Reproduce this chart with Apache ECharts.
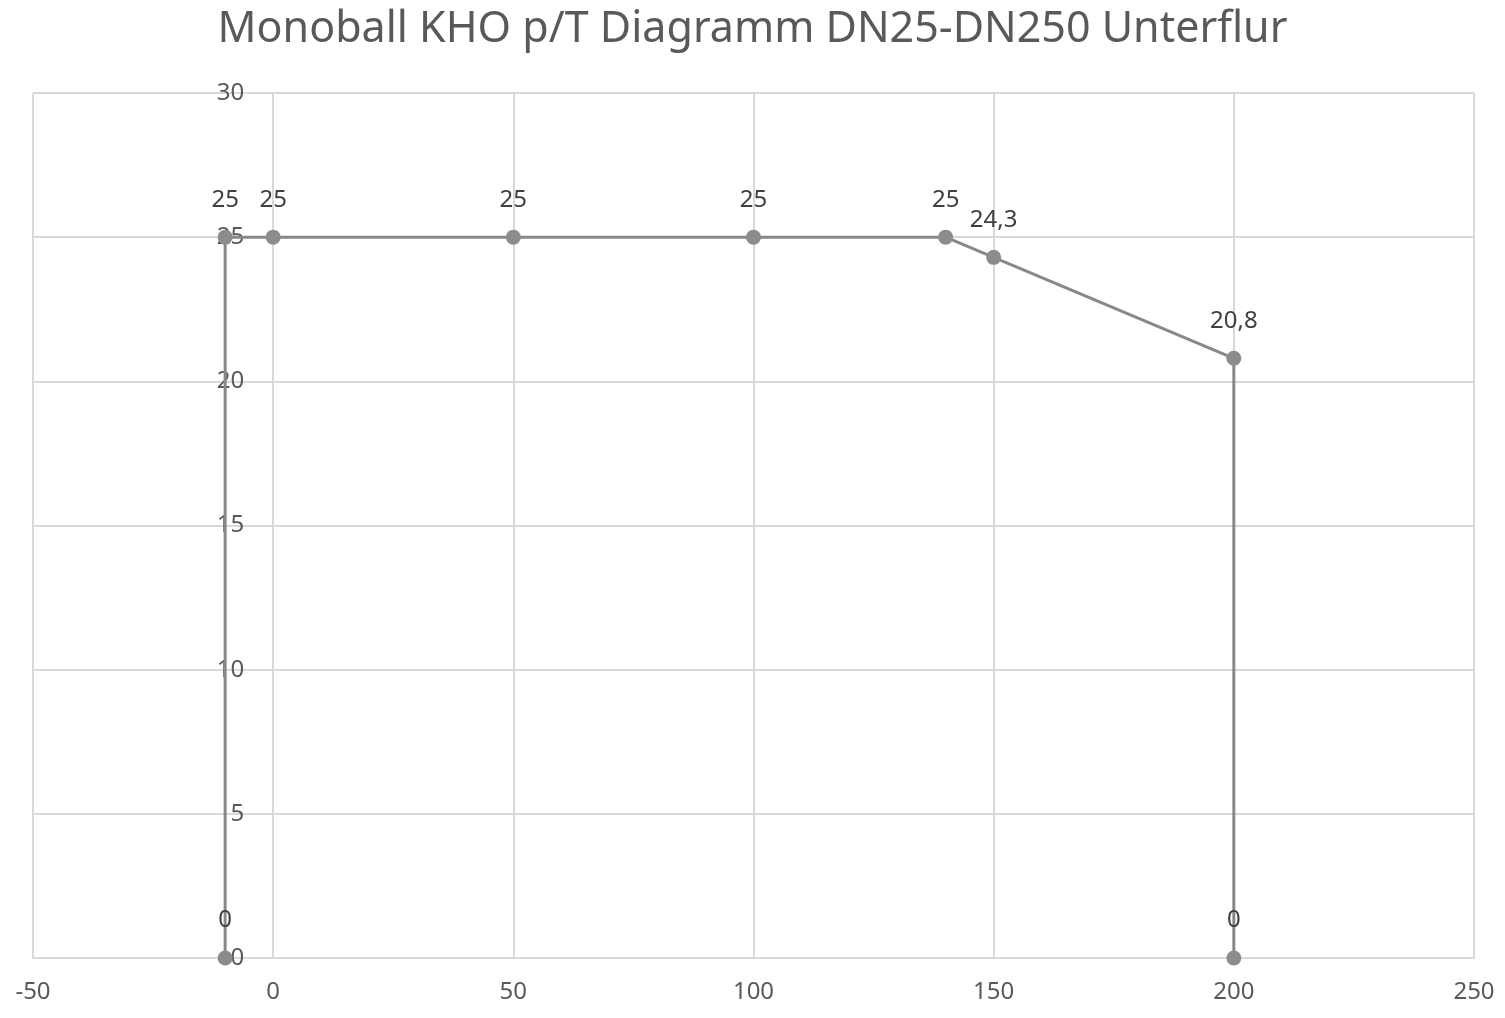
<!DOCTYPE html>
<html><head><meta charset="utf-8">
<script src="https://cdn.jsdelivr.net/npm/echarts@6/dist/echarts.min.js"></script>
<style>html,body{margin:0;padding:0;background:#fff}#c{width:1505px;height:1018px}</style>
</head><body><div id="c"></div>
<script>
const title = 'Monoball KHO p/T Diagramm DN25-DN250 Unterflur';
const temps = [-10, -10, 0, 50, 100, 140, 150, 200, 200];
const pressures = [0, 25, 25, 25, 25, 25, 24.3, 20.8, 0];
const xTicks = {min: -50, max: 250, interval: 50};
const yTicks = {min: 0, max: 30, interval: 5};

const W = 1505, gridLeft = 33, gridRight = 31;
const plotW = W - gridLeft - gridRight;
// place the y axis where x = 0 crosses
const yAxisOffset = -plotW * (0 - xTicks.min) / (xTicks.max - xTicks.min);

const chart = echarts.init(document.getElementById('c'));
const font = 'Noto Sans';
chart.setOption({
  animation: false,
  title: {text: title, left: 'center', top: 3,
    textStyle: {fontFamily: font, fontSize: 43, fontWeight: 'normal', color: '#595959'}},
  grid: {left: gridLeft, right: gridRight, top: 93, bottom: 60, containLabel: false, outerBoundsMode: 'none'},
  xAxis: {type: 'value', min: xTicks.min, max: xTicks.max, interval: xTicks.interval,
    axisLine: {show: true, onZero: false, lineStyle: {color: '#d9d9d9', width: 2}},
    axisTick: {show: false},
    splitLine: {show: true, lineStyle: {color: '#d9d9d9', width: 2}},
    axisLabel: {fontFamily: font, fontSize: 24, color: '#595959', margin: 22}},
  yAxis: {type: 'value', min: yTicks.min, max: yTicks.max, interval: yTicks.interval,
    offset: yAxisOffset,
    axisLine: {show: true, onZero: false, lineStyle: {color: '#d9d9d9', width: 2}},
    axisTick: {show: false},
    splitLine: {show: true, lineStyle: {color: '#d9d9d9', width: 2}},
    axisLabel: {fontFamily: font, fontSize: 24, color: '#595959', margin: 29}},
  series: [{
    type: 'line',
    data: temps.map((t, i) => [t, pressures[i]]),
    symbol: 'circle', symbolSize: 15,
    lineStyle: {color: '#888888', width: 3},
    itemStyle: {color: '#8c8c8c'},
    label: {show: true, position: 'top', distance: 18,
      fontFamily: font, fontSize: 24, color: '#404040',
      formatter: p => String(p.value[1]).replace('.', ',')}
  }]
});
</script></body></html>
